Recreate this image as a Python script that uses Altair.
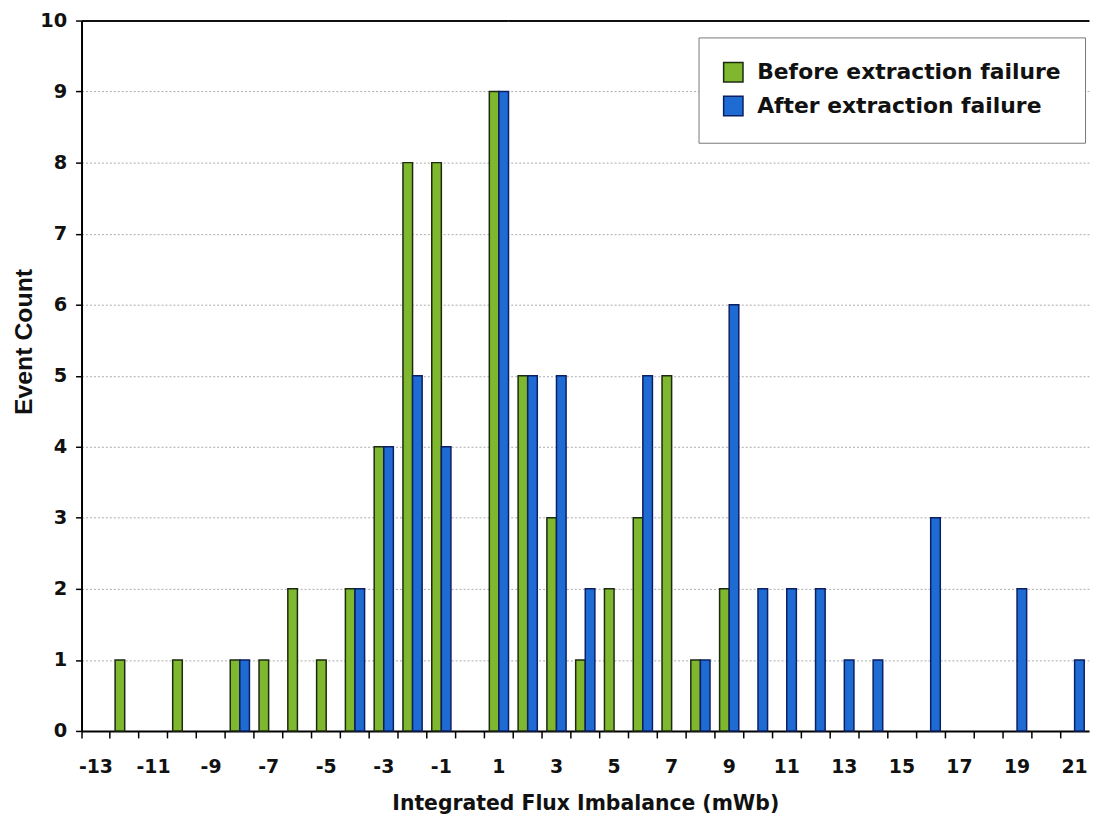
import altair as alt
import pandas as pd

# Integrated flux imbalance bins (mWb)
flux = [-13, -12, -11, -10, -9, -8, -7, -6, -5, -4, -3, -2, -1, 0, 1, 2, 3, 4,
        5, 6, 7, 8, 9, 10, 11, 12, 13, 14, 15, 16, 17, 18, 19, 20, 21]

before = [0, 1, 0, 1, 0, 1, 1, 2, 1, 2, 4, 8, 8, 0, 9, 5, 3, 1,
          2, 3, 5, 1, 2, 0, 0, 0, 0, 0, 0, 0, 0, 0, 0, 0, 0]

after = [0, 0, 0, 0, 0, 1, 0, 0, 0, 2, 4, 5, 4, 0, 9, 5, 5, 2,
         0, 5, 0, 1, 6, 2, 2, 2, 1, 1, 0, 3, 0, 0, 2, 0, 1]

series_names = ["Before extraction failure", "After extraction failure"]
fill_colors = ["#7fb82e", "#1f6bd4"]
stroke_colors = ["#1c2a10", "#0d1f63"]
y_ticks = [0, 1, 2, 3, 4, 5, 6, 7, 8, 9, 10]

rows = []
for f, b, a in zip(flux, before, after):
    rows.append({"flux": f, "series": series_names[0], "count": b})
    rows.append({"flux": f, "series": series_names[1], "count": a})
df = pd.DataFrame(rows)
df = df[df["count"] > 0]

TXT = "#111111"
LBL_FONT = "DejaVu Sans"

chart = alt.Chart(df).mark_bar(strokeWidth=1.5).encode(
    x=alt.X(
        "flux:O",
        scale=alt.Scale(domain=flux, paddingInner=0, paddingOuter=0),
        axis=alt.Axis(
            title="Integrated Flux Imbalance (mWb)",
            titleFont=LBL_FONT, titleFontSize=20.5, titleFontWeight="bold", titleColor=TXT,
            titleX=507, titleY=79, titleBaseline="alphabetic", titleAlign="center",
            labelAngle=0, bandPosition=0,
            labelExpr="datum.value % 2 != 0 ? datum.label : ''",
            labelFont=LBL_FONT, labelFontSize=19, labelFontWeight="bold", labelColor=TXT,
            labelBaseline="alphabetic", labelPadding=35,
            tickSize=7, tickWidth=1.5, tickColor="#000",
            domainColor="#000", domainWidth=2, grid=False,
        ),
    ),
    xOffset=alt.XOffset(
        "series:N",
        scale=alt.Scale(domain=series_names, paddingInner=0, paddingOuter=0.5),
    ),
    y=alt.Y(
        "count:Q",
        scale=alt.Scale(domain=[0, 10], nice=False),
        axis=alt.Axis(
            title="Event Count",
            titleFont="Liberation Sans", titleFontSize=25, titleFontWeight="bold", titleColor=TXT,
            titleX=-50, titleY=323, titleBaseline="alphabetic", titleAlign="center", titleAngle=270,
            values=y_ticks, format="d",
            labelFont=LBL_FONT, labelFontSize=19.5, labelFontWeight="bold", labelColor=TXT,
            labelPadding=9,
            tickSize=6, tickWidth=1.5, tickColor="#000",
            domainColor="#000", domainWidth=2,
            grid=True,
            gridColor=alt.condition("datum.value == 10", alt.value("#111111"), alt.value("#aaaaaa")),
            gridDash=alt.condition("datum.value == 10", alt.value([1, 0]), alt.value([2, 2])),
            gridWidth=alt.condition("datum.value == 10", alt.value(2), alt.value(1)),
        ),
    ),
    fill=alt.Fill(
        "series:N",
        scale=alt.Scale(domain=series_names, range=fill_colors),
        legend=alt.Legend(
            title=None, orient="none", legendX=621, legendY=17,
            padding=24, strokeColor="#777777", fillColor="white",
            labelFont=LBL_FONT, labelFontSize=22, labelFontWeight="bold", labelColor=TXT,
            labelLimit=400, labelOffset=13,
            symbolType="square", symbolSize=380, symbolStrokeColor="#1a1a1a",
            symbolStrokeWidth=1.5, rowPadding=8,
        ),
    ),
    stroke=alt.Stroke(
        "series:N",
        scale=alt.Scale(domain=series_names, range=stroke_colors),
        legend=None,
    ),
).properties(
    width=1014,
    height=715,
    padding={"left": 74, "top": 10, "right": 2, "bottom": 86},
    autosize=alt.AutoSizeParams(type="none"),
    background="white",
).configure_view(stroke=None)

chart.save("out.html", embed_options={"renderer": "svg", "actions": False})
